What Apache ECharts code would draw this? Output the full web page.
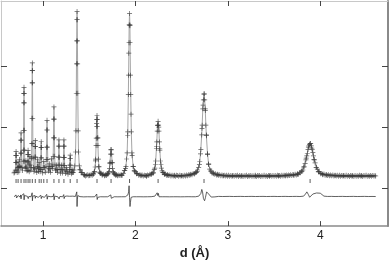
<!DOCTYPE html>
<html><head><meta charset="utf-8">
<script src="https://cdn.jsdelivr.net/npm/echarts@6/dist/echarts.min.js"></script>
<style>html,body{margin:0;padding:0;background:#fff}#c{width:392px;height:265px}</style>
</head><body><div id="c"></div>
<script>
// ---- data (d in Å, intensity in counts; y ticks every 1000) ----
const xTicks = [1, 2, 3, 4];
const yTicks = [0, 1000, 2000];

// calculated profile (also observed points on the peaks)
const profile = [
[0.686,250],[0.694,262],[0.700,295],[0.704,423],[0.706,536],[0.708,600],[0.710,536],[0.712,423],[0.716,295],[0.720,255],
[0.726,338],[0.730,430],[0.734,338],[0.738,265],
[0.741,358],[0.745,470],[0.749,358],
[0.754,340],[0.758,575],[0.760,786],[0.762,905],[0.764,786],[0.766,575],[0.770,337],
[0.778,290],
[0.786,442],[0.788,624],[0.790,948],[0.792,1397],[0.793,1552],[0.794,1650],[0.795,1552],[0.796,1397],[0.798,948],[0.800,624],[0.802,442],[0.806,322],
[0.811,345],[0.815,450],[0.819,345],[0.826,280],
[0.830,293],[0.834,430],[0.836,552],[0.838,620],[0.840,552],[0.842,430],[0.846,293],[0.850,270],
[0.854,380],[0.858,520],[0.862,380],[0.868,294],
[0.872,340],[0.876,493],[0.878,729],[0.880,1145],[0.882,1724],[0.883,1923],[0.884,2050],[0.885,1923],[0.886,1724],[0.888,1145],[0.890,729],[0.892,493],[0.896,340],[0.902,270],
[0.908,316],[0.912,510],[0.914,683],[0.916,780],[0.918,683],[0.920,510],[0.924,316],[0.932,255],
[0.938,355],[0.942,470],[0.946,355],[0.950,275],
[0.954,332],[0.958,420],[0.962,332],[0.968,270],
[0.972,308],[0.976,497],[0.978,665],[0.980,760],[0.982,665],[0.984,497],[0.988,308],[0.996,250],
[1.002,337],[1.008,440],[1.014,337],[1.024,260],
[1.032,355],[1.035,469],[1.038,671],[1.040,952],[1.043,1110],[1.046,952],[1.048,671],[1.051,469],[1.054,355],[1.060,280],
[1.063,317],[1.068,400],[1.073,317],[1.080,260],
[1.086,357],[1.092,480],[1.098,357],[1.104,320],
[1.107,380],[1.110,523],[1.113,825],[1.115,1131],[1.118,1330],[1.121,1131],[1.123,825],[1.126,523],[1.129,380],[1.134,290],
[1.140,302],[1.145,380],[1.150,302],[1.156,255],
[1.161,304],[1.164,378],[1.167,508],[1.170,690],[1.172,790],[1.174,690],[1.177,508],[1.180,378],[1.183,304],[1.190,245],
[1.195,302],[1.200,380],[1.205,302],[1.211,250],
[1.215,300],[1.218,374],[1.221,505],[1.224,688],[1.226,790],[1.228,688],[1.231,505],[1.234,374],[1.237,300],[1.245,240],
[1.250,280],[1.255,340],[1.260,280],[1.270,230],
[1.283,263],[1.286,305],[1.289,379],[1.292,482],[1.294,540],[1.296,482],[1.299,379],[1.302,305],[1.305,263],[1.310,235],
[1.317,259],[1.322,300],[1.327,259],
[1.336,298],[1.344,365],[1.352,592],[1.356,939],[1.360,1554],[1.362,2035],[1.364,2409],[1.366,2756],[1.368,2890],[1.370,2756],[1.372,2409],[1.374,2035],[1.376,1554],[1.380,939],[1.384,592],[1.392,365],[1.400,298],[1.416,253],
[1.45,212],[1.50,210],[1.544,239],[1.554,264],[1.564,347],[1.569,475],[1.574,700],[1.576,818],[1.579,1014],[1.581,1121],[1.584,1190],[1.587,1121],[1.589,1014],[1.592,818],[1.594,700],[1.599,475],[1.604,347],[1.614,264],[1.624,239],[1.640,222],[1.67,210],
[1.692,223],[1.703,233],[1.714,270],[1.720,325],[1.725,423],[1.730,559],[1.736,635],[1.742,559],[1.747,423],[1.752,325],[1.758,270],[1.769,233],[1.780,223],[1.80,212],[1.85,210],
[1.884,287],[1.897,353],[1.910,578],[1.917,923],[1.923,1532],[1.926,1850],[1.930,2380],[1.932,2672],[1.936,2857],[1.940,2672],[1.942,2380],[1.946,1850],[1.949,1532],[1.955,923],[1.962,578],[1.975,353],[1.988,287],[2.014,241],[2.06,210],[2.12,205],
[2.175,232],[2.192,254],[2.210,330],[2.219,445],[2.227,650],[2.231,757],[2.236,935],[2.240,1033],[2.245,1095],[2.250,1033],[2.254,935],[2.259,757],[2.263,650],[2.271,445],[2.280,330],[2.297,254],[2.315,232],[2.35,215],[2.42,205],[2.50,203],
[2.592,219],[2.642,242],[2.667,276],[2.692,389],[2.704,563],[2.717,871],[2.722,1032],[2.729,1299],[2.735,1446],[2.742,1540],[2.749,1446],[2.755,1299],[2.762,1032],[2.767,871],[2.780,563],[2.792,389],[2.817,276],[2.842,242],[2.892,219],[2.95,208],[3.05,202],[3.15,200],[3.30,200],[3.45,200],[3.55,202],
[3.62,207],[3.71,216],[3.755,229],[3.80,274],[3.8225,343],[3.845,465],[3.854,529],[3.8675,635],[3.8765,693],[3.89,730],[3.9035,693],[3.9125,635],[3.926,529],[3.935,465],[3.9575,343],[3.98,274],[4.025,229],[4.07,216],[4.16,207],[4.25,203],[4.35,200],[4.45,200],[4.60,200]
];

// observed counts on a regular d grid (d = obsGridStart + i * obsGridStep)
const obsGridStart = 1.400;
const obsGridStep = 0.012;
const obsGrid = [
303,254,257,222,222,201,214,220,204,210,221,211,230,274,448,1062,830,352,251,244,
215,227,205,219,209,238,257,406,628,416,258,236,212,224,203,217,207,222,214,243,
290,322,478,862,2210,2660,1212,532,358,280,268,236,239,212,221,203,215,199,214,209,
197,216,206,230,224,245,248,308,392,678,1025,1000,622,388,283,258,227,233,210,222,
206,218,201,213,198,211,196,212,207,195,210,201,209,196,213,200,215,204,220,211,
229,221,240,233,259,260,298,338,437,632,980,1360,1545,1270,860,555,397,312,286,250,
251,228,236,216,227,210,221,204,216,201,214,199,212,197,210,195,209,196,208,194,
207,199,210,192,206,197,209,193,204,198,210,191,205,199,208,194,203,196,211,193,
206,198,209,192,204,197,210,195,205,193,208,199,206,194,209,197,207,195,210,198,
208,196,212,199,213,201,215,203,217,206,220,208,223,212,228,218,236,229,253,251,
282,298,356,403,493,572,673,714,730,657,583,472,413,341,312,267,265,238,240,221,
231,213,224,208,220,204,217,202,215,200,213,199,212,197,210,196,209,198,207,194,
210,197,206,193,208,199,207,193,209,196,205,194,210,198,206,192,208,199,211,195,
205,197,209,194,207,198,204
];

// difference curve (observed - calculated, shown offset below the pattern)
const diffCurve = [
[0.686,-140],[0.695,-128],[0.702,-150],[0.708,-110],[0.713,-160],[0.720,-135],[0.730,-120],[0.735,-150],[0.745,-125],[0.752,-145],[0.758,-110],[0.762,-175],[0.767,-120],[0.775,-140],[0.788,-125],[0.792,-90],[0.795,-190],[0.799,-120],[0.805,-140],[0.815,-125],[0.820,-150],[0.830,-132],[0.836,-100],[0.840,-170],[0.846,-135],[0.856,-150],[0.860,-118],[0.870,-140],[0.878,-115],[0.882,-75],[0.885,-205],[0.889,-130],[0.900,-145],[0.912,-120],[0.916,-165],[0.922,-130],[0.935,-140],[0.942,-120],[0.947,-150],[0.958,-130],[0.965,-145],[0.976,-115],[0.981,-170],[0.988,-135],[1.000,-140],[1.008,-125],[1.015,-150],[1.025,-135],[1.040,-100],[1.045,-180],[1.052,-130],[1.065,-145],[1.072,-125],[1.085,-140],[1.092,-120],[1.100,-150],[1.110,-135],[1.116,-90],[1.120,-190],[1.127,-130],[1.140,-145],[1.148,-125],[1.160,-140],[1.170,-110],[1.174,-175],[1.182,-135],[1.195,-145],[1.202,-125],[1.212,-140],[1.224,-105],[1.228,-170],[1.236,-135],[1.250,-145],[1.258,-128],[1.270,-140],[1.285,-132],[1.292,-112],[1.296,-160],[1.305,-138],[1.322,-130],[1.335,-140],[1.350,-135],[1.360,-110],[1.365,-60],[1.368,-300],[1.371,-190],[1.376,-120],[1.385,-145],[1.400,-138],
[1.420,-132],[1.440,-142],[1.460,-135],[1.480,-140],[1.500,-133],[1.520,-141],[1.540,-136],[1.560,-140],[1.575,-125],[1.581,-95],[1.586,-185],[1.592,-150],[1.600,-130],[1.620,-140],[1.640,-134],[1.660,-141],[1.680,-136],[1.700,-140],[1.720,-128],[1.733,-110],[1.739,-165],[1.748,-135],[1.770,-140],[1.790,-134],[1.810,-141],[1.830,-136],[1.850,-140],[1.870,-135],[1.890,-140],[1.905,-128],[1.918,-110],[1.926,-60],[1.931,40],[1.936,-150],[1.941,-300],[1.946,-230],[1.953,-150],[1.962,-125],[1.975,-140],[1.990,-134],
[2.010,-140],[2.030,-135],[2.050,-140],[2.070,-134],[2.090,-141],[2.110,-136],[2.130,-140],[2.150,-135],[2.170,-139],[2.190,-134],[2.210,-130],[2.225,-115],[2.235,-75],[2.242,-120],[2.248,-85],[2.255,-140],[2.263,-160],[2.275,-148],[2.290,-140],[2.310,-135],[2.330,-140],[2.350,-134],[2.370,-141],[2.390,-136],[2.410,-140],[2.430,-133],[2.450,-140],[2.470,-135],[2.490,-141],[2.510,-136],[2.530,-140],[2.550,-134],[2.570,-139],[2.590,-135],[2.610,-140],[2.630,-134],[2.650,-140],[2.670,-136],[2.685,-130],[2.697,-120],[2.708,-85],[2.718,-20],[2.726,-60],[2.736,-170],[2.748,-205],[2.758,-150],[2.770,-60],[2.780,-50],[2.792,-95],[2.805,-125],[2.820,-145],[2.840,-150],[2.860,-142],[2.880,-138],
[2.900,-134],[2.920,-140],[2.940,-136],[2.960,-141],[2.980,-135],[3.000,-139],[3.020,-134],[3.040,-140],[3.060,-136],[3.080,-141],[3.100,-135],[3.120,-139],[3.140,-134],[3.160,-140],[3.180,-136],[3.200,-141],[3.220,-135],[3.240,-139],[3.260,-134],[3.280,-140],[3.300,-136],[3.320,-141],[3.340,-135],[3.360,-139],[3.380,-134],[3.400,-140],[3.420,-136],[3.440,-141],[3.460,-135],[3.480,-139],[3.500,-134],[3.520,-140],[3.540,-136],[3.560,-141],[3.580,-135],[3.600,-139],[3.620,-134],[3.640,-140],[3.660,-136],[3.680,-141],[3.700,-135],[3.720,-139],[3.740,-134],[3.760,-140],[3.780,-136],[3.800,-138],[3.820,-130],[3.840,-95],[3.855,-60],[3.870,-100],[3.885,-148],[3.900,-130],[3.920,-95],[3.940,-80],[3.960,-78],[3.980,-90],[4.000,-82],[4.020,-110],[4.040,-130],[4.060,-140],
[4.080,-135],[4.100,-139],[4.120,-134],[4.140,-140],[4.160,-136],[4.180,-141],[4.200,-135],[4.220,-139],[4.240,-134],[4.260,-140],[4.280,-136],[4.300,-141],[4.320,-135],[4.340,-139],[4.360,-134],[4.380,-140],[4.400,-136],[4.420,-141],[4.440,-135],[4.460,-139],[4.480,-134],[4.500,-140],[4.520,-136],[4.540,-141],[4.560,-135],[4.580,-139],[4.600,-136]
];

// Bragg reflection positions (d, Å)
const reflections = [0.708,0.730,0.762,0.794,0.815,0.838,0.858,0.884,0.916,0.958,0.980,
  1.008,1.043,1.118,1.172,1.226,1.294,1.368,1.584,1.736,1.936,2.245,2.742,3.890];
const reflectionLevel = 119;

// ---- chart ----
const xMin = 0.545, xMax = 4.733, yMin = -620, yMax = 3063;
const obsPoints = profile.concat(obsGrid.map((v, i) => [+(obsGridStart + i * obsGridStep).toFixed(3), v]));
const plus = 'path://M0,4.3H10V5.7H0ZM4.3,0H5.7V10H4.3Z';
const font = 'Liberation Sans, Arial, sans-serif';

const chart = echarts.init(document.getElementById('c'), null, {renderer: 'canvas'});
chart.setOption({
  animation: false,
  backgroundColor: '#fff',
  grid: {left: 1, right: 4, top: 1, bottom: 32, containLabel: false},
  xAxis: [
    {type: 'value', min: xMin, max: xMax, position: 'bottom',
     axisLine: {show: true, onZero: false, lineStyle: {color: '#8a8a8a', width: 1.5}},
     axisTick: {show: true, inside: true, length: 5, customValues: xTicks, lineStyle: {color: '#444', width: 1}},
     axisLabel: {show: true, customValues: xTicks, color: '#222', fontSize: 12, margin: 4, fontFamily: font},
     splitLine: {show: false},
     name: 'd (Å)', nameLocation: 'middle', nameGap: 16,
     nameTextStyle: {fontWeight: 'bold', fontSize: 13, color: '#222', fontFamily: font}},
    {type: 'value', min: xMin, max: xMax, position: 'top',
     axisLine: {show: true, onZero: false, lineStyle: {color: '#c8c8c8', width: 1}},
     axisTick: {show: true, inside: true, length: 5, customValues: xTicks, lineStyle: {color: '#444', width: 1}},
     axisLabel: {show: false}, splitLine: {show: false}}
  ],
  yAxis: [
    {type: 'value', min: yMin, max: yMax, position: 'left',
     axisLine: {show: true, onZero: false, lineStyle: {color: '#c8c8c8', width: 1}},
     axisTick: {show: true, inside: true, length: 6, customValues: yTicks, lineStyle: {color: '#444', width: 1}},
     axisLabel: {show: false}, splitLine: {show: false}},
    {type: 'value', min: yMin, max: yMax, position: 'right',
     axisLine: {show: true, onZero: false, lineStyle: {color: '#8a8a8a', width: 2}},
     axisTick: {show: true, inside: true, length: 6, customValues: yTicks, lineStyle: {color: '#444', width: 1}},
     axisLabel: {show: false}, splitLine: {show: false}}
  ],
  series: [
    {name: 'calc', type: 'line', data: profile, showSymbol: false, symbol: 'none', silent: true,
     lineStyle: {color: '#a6a6a6', width: 1}, z: 1},
    {name: 'obs', type: 'scatter', data: obsPoints, symbol: plus, symbolSize: 5, silent: true,
     itemStyle: {color: '#363636'}, z: 2},
    {name: 'reflections', type: 'scatter', data: reflections.map(d => [d, reflectionLevel]),
     symbol: 'rect', symbolSize: [1, 4], silent: true, itemStyle: {color: '#333'}, z: 3},
    {name: 'diff', type: 'line', data: diffCurve, showSymbol: false, symbol: 'none', silent: true,
     lineStyle: {color: '#3a3a3a', width: 0.8}, z: 3}
  ]
});
</script>
</body></html>
